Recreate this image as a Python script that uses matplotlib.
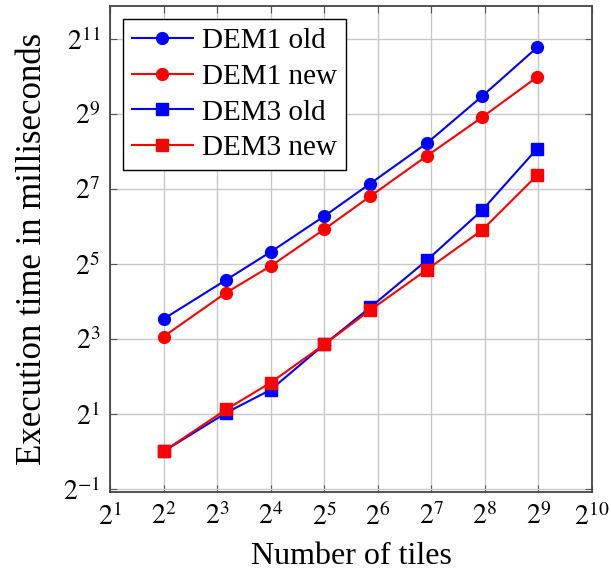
import numpy as np
import matplotlib
matplotlib.use("Agg")
import matplotlib.pyplot as plt
from matplotlib.ticker import FixedLocator, FuncFormatter, NullLocator

tiles = [4, 9, 16, 32, 58, 121, 247, 503]
dem1_old = [11.55, 23.8, 39.9, 77.2, 141, 298, 709, 1746]
dem1_new = [8.34, 18.8, 30.7, 60.6, 111.4, 235.5, 481, 1010]
dem3_old = [1.0, 2.04, 3.12, 7.21, 14.3, 34.3, 86.2, 268.7]
dem3_new = [1.0, 2.17, 3.56, 7.21, 13.6, 28.8, 59.7, 164.3]

x_exp = list(range(1, 11))
y_exp = [-1, 1, 3, 5, 7, 9, 11]

plt.rcParams['font.family'] = ['Liberation Serif', 'DejaVu Serif']
plt.rcParams['mathtext.fontset'] = 'stix'

fig = plt.figure(figsize=(6.11, 5.78), dpi=100)
ax = fig.add_axes([0.18, 0.149, 0.789, 0.841])

blue = '#0000ff'
red = '#ff0000'
ms = 8.5
lw = 1.5
ax.plot(tiles, dem1_old, '-o', color=blue, lw=lw, ms=ms, label='DEM1 old')
ax.plot(tiles, dem1_new, '-o', color=red, lw=lw, ms=ms, label='DEM1 new')
ax.plot(tiles, dem3_old, '-s', color=blue, lw=lw, ms=ms, label='DEM3 old')
ax.plot(tiles, dem3_new, '-s', color=red, lw=lw, ms=ms, label='DEM3 new')

ax.set_xscale('log', base=2)
ax.set_yscale('log', base=2)
ax.set_xlim(2 ** 1, 2 ** 10)
ax.set_ylim(2 ** -1.08, 2 ** 11.88)

ax.xaxis.set_major_locator(FixedLocator([2.0 ** e for e in x_exp]))
ax.yaxis.set_major_locator(FixedLocator([2.0 ** e for e in y_exp]))
ax.xaxis.set_minor_locator(NullLocator())
ax.yaxis.set_minor_locator(NullLocator())
fmt = FuncFormatter(lambda v, p: r'$2^{%d}$' % int(round(np.log2(v))))
ax.xaxis.set_major_formatter(fmt)
ax.yaxis.set_major_formatter(fmt)

ax.grid(True, color='#c8c8c8', lw=1.0)
ax.set_axisbelow(True)
ax.tick_params(direction='in', length=5, width=0.8, color='#555555',
               top=True, right=True, labelsize=20, pad=8)
ax.tick_params(axis='y', pad=7)
for s in ax.spines.values():
    s.set_color('#444444')
    s.set_linewidth(1.3)

ax.set_xlabel('Number of tiles', fontsize=23, labelpad=8)
ax.set_ylabel('Execution time in milliseconds', fontsize=25, labelpad=10)

leg = ax.legend(loc='upper left', fontsize=21, fancybox=False, framealpha=1,
                edgecolor='black', borderpad=0.3, labelspacing=0.32,
                handlelength=2.1, handletextpad=0.3, borderaxespad=0.45)
leg.get_frame().set_linewidth(1.0)

fig.savefig('out.png', dpi=100)
